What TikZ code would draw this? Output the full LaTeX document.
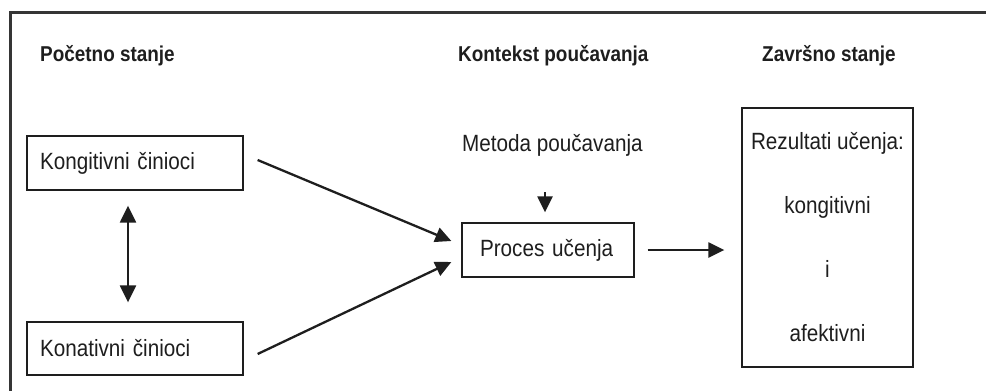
\documentclass[tikz,border=0pt]{standalone}
\usepackage{fontspec}
\setmainfont{Liberation Sans}[FakeStretch=0.88]
\usetikzlibrary{arrows.meta}
\definecolor{ink}{HTML}{1E1E1E}
\begin{document}
\begin{tikzpicture}[x=1pt,y=-1pt,
  every node/.style={text=ink},
  txt/.style={font=\fontsize{23.5}{27}\selectfont, inner sep=0pt},
  head/.style={font=\bfseries\fontsize{21.5}{25}\selectfont, inner sep=0pt, anchor=west},
  box/.style={draw=ink, line width=1.3pt, rectangle, font=\fontsize{23.5}{27}\selectfont},
  conn/.style={draw=ink, line width=2.3pt, -{Triangle[length=16pt,width=15pt]}},
  dconn/.style={draw=ink, line width=2.3pt, {Triangle[length=17pt,width=16pt]}-{Triangle[length=17pt,width=16pt]}}
]
\useasboundingbox (0,0) rectangle (986,391);
\fill[white] (0,0) rectangle (986,391);
% frame
\draw[draw=ink!90, line width=3pt] (986,12) -- (10,12) -- (10,391);
% headings
\node[head] (h1) at (40,56) {Početno stanje};
\node[head] (h2) at (458,56) {Kontekst poučavanja};
\node[head] (h3) at (762,56) {Završno stanje};
% boxes
\node[box, minimum width=216pt, minimum height=54pt, text width=190pt, inner xsep=13pt, align=left] (k) at (135,163) {Kongitivni činioci};
\node[box, minimum width=216pt, minimum height=53pt, text width=190pt, inner xsep=13pt, align=left] (n) at (135,348.5) {Konativni činioci};
\node[txt, anchor=west] (m) at (462,145) {Metoda poučavanja};
\node[box, minimum width=172pt, minimum height=54pt, text width=136pt, inner xsep=18pt, align=left] (p) at (548,250) {Proces učenja};
\node[box, minimum width=171pt, minimum height=259pt, align=center, font=\fontsize{23.5}{64}\selectfont] (r) at (827.5,237.5) {Rezultati učenja:\\kongitivni\\i\\afektivni};
% connectors
\draw[dconn] ([xshift=-7pt,yshift=-15pt]k.south) -- ([xshift=-7pt,yshift=19pt]n.north);
\draw[conn] ([xshift=14pt,yshift=3pt]k.east) -- ([xshift=-10pt,yshift=9pt]p.west);
\draw[conn] ([xshift=14pt,yshift=-5.5pt]n.east) -- ([xshift=-10pt,yshift=-12pt]p.west);
\draw[conn, shorten <=36pt, shorten >=10pt] ([xshift=-3pt]m.south -| p.north) -- ([xshift=-3pt]p.north);
\draw[conn, shorten <=13pt, shorten >=17pt] (p.east) -- (p.east -| r.west);
\end{tikzpicture}
\end{document}
